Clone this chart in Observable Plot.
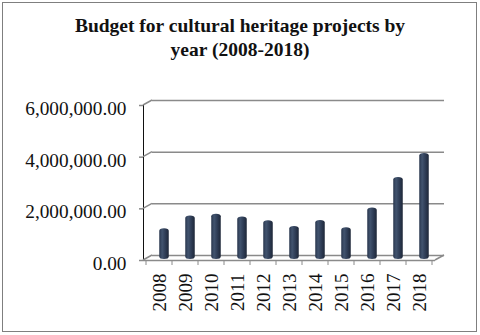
<!DOCTYPE html>
<html><head><meta charset="utf-8">
<script src="https://cdn.jsdelivr.net/npm/d3@7"></script>
<script src="https://cdn.jsdelivr.net/npm/@observablehq/plot@0.6"></script>
<style>
body{margin:0;background:#fff;}
#wrap{position:relative;width:480px;height:335px;overflow:hidden;background:#fff;}
#frame{position:absolute;left:2px;top:2px;width:475px;height:330px;box-sizing:border-box;border:1.5px solid #7f7f7f;}
#title{position:absolute;left:0;top:14px;width:480px;text-align:center;font-family:"Liberation Serif","Times New Roman",serif;font-weight:bold;font-size:19.5px;line-height:23.5px;color:#111;z-index:2;}
#chart{position:absolute;left:0;top:0;}
</style></head>
<body><div id="wrap"><div id="frame"></div><div id="title">Budget for cultural heritage projects by<br>year (2008-2018)</div><div id="chart"></div></div>
<script>
const years = ["2008","2009","2010","2011","2012","2013","2014","2015","2016","2017","2018"];
const budgets = [1190000, 1680000, 1750000, 1650000, 1500000, 1280000, 1510000, 1230000, 1990000, 3170000, 4100000];
const yTicks = [0, 2000000, 4000000, 6000000];

const data = years.map((y, i) => ({year: y, value: budgets[i]}));
const ml = 143, mr = 45, mt = 105, mb = 75, W = 480, H = 335;
const depthX = 9, depthY = -5;

const chart = Plot.plot({
  width: W, height: H,
  marginLeft: ml, marginRight: mr, marginTop: mt, marginBottom: mb,
  style: {fontFamily: "Liberation Serif, Times New Roman, serif", fontSize: "18px", color: "#111", background: "transparent", overflow: "visible"},
  x: {domain: years, padding: 0, tickSize: 0, tickPadding: 15, tickRotate: -90, label: null},
  y: {domain: [0, 6000000], ticks: yTicks, tickFormat: d3.format(",.2f"), tickSize: 4, tickPadding: 13, label: null, line: true},
  marks: [
    Plot.ruleY(yTicks, {dx: depthX, dy: depthY, stroke: "#8a8a8a", strokeWidth: 1.5}),
    Plot.ruleY([0], {stroke: "#8a8a8a", strokeWidth: 1.5}),
    Plot.barY(data, {x: "year", y: "value", dx: 5, dy: -1, insetLeft: 8.25, insetRight: 8.25, fill: "url(#cyl)"})
  ]
});
document.getElementById("chart").appendChild(chart);

const svg = d3.select(chart);
const defs = svg.insert("defs", ":first-child");
const g = defs.append("linearGradient").attr("id", "cyl").attr("x1", "0").attr("x2", "1").attr("y1", "0").attr("y2", "0");
g.append("stop").attr("offset", "0%").attr("stop-color", "#28354c");
g.append("stop").attr("offset", "30%").attr("stop-color", "#42546f");
g.append("stop").attr("offset", "65%").attr("stop-color", "#2e3c55");
g.append("stop").attr("offset", "100%").attr("stop-color", "#1e2738");

// cylinder rounding
svg.selectAll("g[aria-label='bar'] rect").attr("rx", 5).attr("ry", 2.5);

// axis styling
svg.selectAll("g[aria-label^='y-axis'] path, g[aria-label^='y-axis'] line").attr("stroke", "#8a8a8a").attr("stroke-width", 1.5);
svg.selectAll("g[aria-label^='y-axis'] text").attr("dy", "0.17em").style("font-size", "19.3px");
svg.selectAll("g[aria-label^='x-axis'] text").style("font-size", "19px").attr("dx", "0.1em");

// 3D wall edges and floor ticks using the plot's scales
const ys = chart.scale("y");
const xs = chart.scale("x");
const x0 = ml, x1 = W - mr;
const deco = svg.append("g").attr("stroke", "#8a8a8a").attr("stroke-width", 1.5).attr("fill", "none");
yTicks.forEach(v => {
  const yy = ys.apply(v);
  deco.append("line").attr("x1", x0).attr("y1", yy).attr("x2", x0 + depthX).attr("y2", yy + depthY);
});
const y0 = ys.apply(0);
deco.append("line").attr("x1", x1).attr("y1", y0).attr("x2", x1 + depthX).attr("y2", y0 + depthY);
const bw = xs.bandwidth != null ? xs.bandwidth : (x1 - x0) / years.length;
const bounds = years.map(y => xs.apply(y)).concat([xs.apply(years[years.length - 1]) + bw]);
bounds.forEach(b => {
  deco.append("line").attr("x1", b).attr("y1", y0).attr("x2", b).attr("y2", y0 + 5).attr("stroke-width", 1);
});
</script>
</body></html>
